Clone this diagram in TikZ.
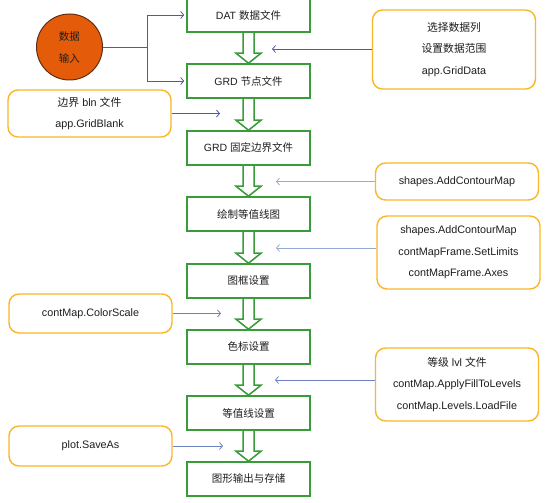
\documentclass[tikz,border=0pt]{standalone}
\usepackage{fontspec}
\setmainfont{Liberation Sans}
\newfontfamily\cjk{Noto Sans CJK SC}
\usetikzlibrary{arrows.meta,calc,backgrounds}
\definecolor{gbox}{RGB}{58,155,58}
\definecolor{ybox}{RGB}{250,182,40}
\definecolor{lnk}{RGB}{72,92,170}
\definecolor{lnkmid}{RGB}{110,130,195}
\definecolor{lnklt}{RGB}{150,172,215}
\definecolor{orfill}{RGB}{228,92,10}
\definecolor{ordraw}{RGB}{95,45,20}
\definecolor{txt}{RGB}{30,30,30}
\newcommand\hollowarr[2]{\draw[harrow] let \p1=(#1.south), \p2=(#2.north) in
  (\x1-5.5pt,\y1) -- (\x1-5.5pt,\y2+10pt) -- (\x1-12.5pt,\y2+10pt) -- (\x1,\y2) --
  (\x1+12.5pt,\y2+10pt) -- (\x1+5.5pt,\y2+10pt) -- (\x1+5.5pt,\y1);}
\begin{document}
\begin{tikzpicture}[x=1pt,y=-1pt,
  mainbox/.style={draw=gbox,line width=1.6pt,fill=white,minimum width=123pt,
    minimum height=34pt,inner sep=0pt,font=\fontsize{10.5}{12}\selectfont,text=txt},
  sidebox/.style={draw=ybox,line width=1.4pt,rounded corners=10pt,fill=white,
    minimum width=163pt,inner sep=0pt,align=center,font=\fontsize{10.8}{21.5}\selectfont,text=txt},
  harrow/.style={draw=gbox,line width=1.5pt,fill=white,line join=miter},
  bl/.style={draw=lnk,line width=0.8pt,shorten >=2pt,-{Straight Barb[length=3pt,width=7pt]}},
  blt/.style={bl,draw=lnklt},
  blm/.style={bl,draw=lnkmid},
  circ/.style={circle,draw=ordraw,line width=1pt,fill=orfill,minimum size=66pt,inner sep=0pt,
    align=center,font=\fontsize{10.5}{22}\selectfont,text=txt}
]
\useasboundingbox (0,0) rectangle (550,503);
% main column
\node[mainbox] (n1) at (248.5,15) {DAT {\cjk 数据文件}};
\node[mainbox] (n2) at (248.5,81) {GRD {\cjk 节点文件}};
\node[mainbox] (n3) at (248.5,148) {GRD {\cjk 固定边界文件}};
\node[mainbox] (n4) at (248.5,214) {\cjk 绘制等值线图};
\node[mainbox] (n5) at (248.5,281) {\cjk 图框设置};
\node[mainbox] (n6) at (248.5,347) {\cjk 色标设置};
\node[mainbox] (n7) at (248.5,413) {\cjk 等值线设置};
\node[mainbox] (n8) at (248.5,479) {\cjk 图形输出与存储};
\begin{pgfonlayer}{background}
\hollowarr{n1}{n2}
\hollowarr{n2}{n3}
\hollowarr{n3}{n4}
\hollowarr{n4}{n5}
\hollowarr{n5}{n6}
\hollowarr{n6}{n7}
\hollowarr{n7}{n8}
\end{pgfonlayer}
% input circle
\node[circ] (c) at (69.5,47) {\cjk 数据\\\cjk 输入};
\coordinate (j) at (147,47);
\draw[bl] (c.east) -- (j) |- (n1);
\draw[bl] (j) |- (n2);
% side boxes
\node[sidebox,minimum height=79pt] (r1) at (454,49.5) {{\cjk 选择数据列}\\{\cjk 设置数据范围}\\app.GridData};
\node[sidebox,minimum height=47pt] (l1) at (89.5,113.5) {{\cjk 边界} bln {\cjk 文件}\\app.GridBlank};
\node[sidebox,minimum height=37pt] (r2) at (457,181.5) {shapes.AddContourMap};
\node[sidebox,minimum height=73pt] (r3) at (458.5,252.5) {shapes.AddContourMap\\contMapFrame.SetLimits\\contMapFrame.Axes};
\node[sidebox,minimum height=39pt] (l2) at (90.5,313.5) {contMap.ColorScale};
\node[sidebox,minimum height=73pt] (r4) at (457,384.5) {{\cjk 等级} lvl {\cjk 文件}\\contMap.ApplyFillToLevels\\contMap.Levels.LoadFile};
\node[sidebox,minimum height=40pt] (l3) at (90.5,446) {plot.SaveAs};
% side connectors
\coordinate (t1) at (270,49);
\coordinate (t2) at (222,113.5);
\coordinate (t3) at (274,181.5);
\coordinate (t4) at (274,248);
\coordinate (t5) at (223,313.5);
\coordinate (t6) at (273,380);
\coordinate (t7) at (225,446);
\draw[bl] (r1.west |- t1) -- (t1);
\draw[bl] (l1.east |- t2) -- (t2);
\draw[blt] (r2.west |- t3) -- (t3);
\draw[blt] (r3.west |- t4) -- (t4);
\draw[blm] (l2.east |- t5) -- (t5);
\draw[blm] (r4.west |- t6) -- (t6);
\draw[blm] (l3.east |- t7) -- (t7);
\end{tikzpicture}
\end{document}
